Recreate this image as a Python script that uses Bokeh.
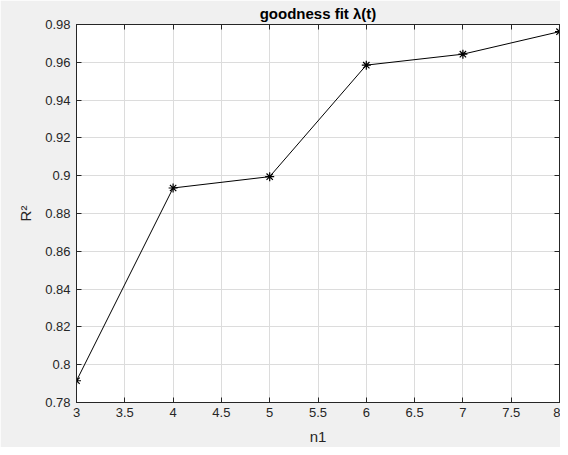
from bokeh.plotting import figure
from bokeh.models import LinearAxis, Range1d, FixedTicker, CustomJSTickFormatter, Title
from bokeh.embed import file_html
from bokeh.resources import INLINE

n1 = [3, 4, 5, 6, 7, 8]
r2 = [0.7915, 0.8935, 0.8995, 0.9585, 0.9643, 0.9762]
x_ticks = [3, 3.5, 4, 4.5, 5, 5.5, 6, 6.5, 7, 7.5, 8]
y_ticks = [0.78, 0.80, 0.82, 0.84, 0.86, 0.88, 0.90, 0.92, 0.94, 0.96, 0.98]

BG = "#f0f0f0"
AX = "#262626"
FONT = "Liberation Sans"

p = figure(width=560, height=447, output_backend="svg", toolbar_location=None,
           x_range=Range1d(3, 8), y_range=Range1d(0.78, 0.98),
           min_border_left=76, min_border_right=1, min_border_top=0, min_border_bottom=0,
           background_fill_color="white", border_fill_color=BG,
           outline_line_color=AX, outline_line_width=1)

p.title = Title(text="goodness fit λ(t)", align="center", text_font=FONT,
                text_font_size="15px", text_font_style="bold", text_color="black",
                offset=0, standoff=5)

fmt = CustomJSTickFormatter(code="return parseFloat(tick.toFixed(4)).toString();")
blank = CustomJSTickFormatter(code="return '';")

for ax, ticks in ((p.xaxis[0], x_ticks), (p.yaxis[0], y_ticks)):
    ax.ticker = FixedTicker(ticks=ticks)
    ax.formatter = fmt
    ax.major_tick_in = 5
    ax.major_tick_out = 0
    ax.minor_tick_in = 0
    ax.minor_tick_out = 0
    ax.axis_line_color = AX
    ax.major_tick_line_color = AX
    ax.major_label_text_font = FONT
    ax.major_label_text_font_size = "13px"
    ax.major_label_text_color = AX
    ax.axis_label_text_font = FONT
    ax.axis_label_text_font_size = "15px"
    ax.axis_label_text_font_style = "normal"
    ax.axis_label_text_color = AX

p.xaxis.axis_label = "n1"
p.xaxis.major_label_standoff = 5
p.xaxis.axis_label_standoff = 8
p.yaxis.axis_label = "R²"
p.yaxis.major_label_standoff = 6
p.yaxis.axis_label_standoff = 8

for loc, ticks in (("right", y_ticks), ("above", x_ticks)):
    a = LinearAxis(ticker=FixedTicker(ticks=ticks), formatter=blank,
                   major_tick_in=5, major_tick_out=0, minor_tick_in=0, minor_tick_out=0,
                   axis_line_color=AX, major_tick_line_color=AX, major_label_standoff=0)
    p.add_layout(a, loc)

p.xgrid.ticker = FixedTicker(ticks=x_ticks)
p.ygrid.ticker = FixedTicker(ticks=y_ticks)
p.grid.grid_line_color = "#dcdcdc"
p.grid.grid_line_width = 1

p.line(n1, r2, line_color="black", line_width=1)
p.scatter(n1, r2, marker="asterisk", size=9, line_color="black", line_width=1.2)

open("out.html", "w").write(file_html(p, INLINE))
